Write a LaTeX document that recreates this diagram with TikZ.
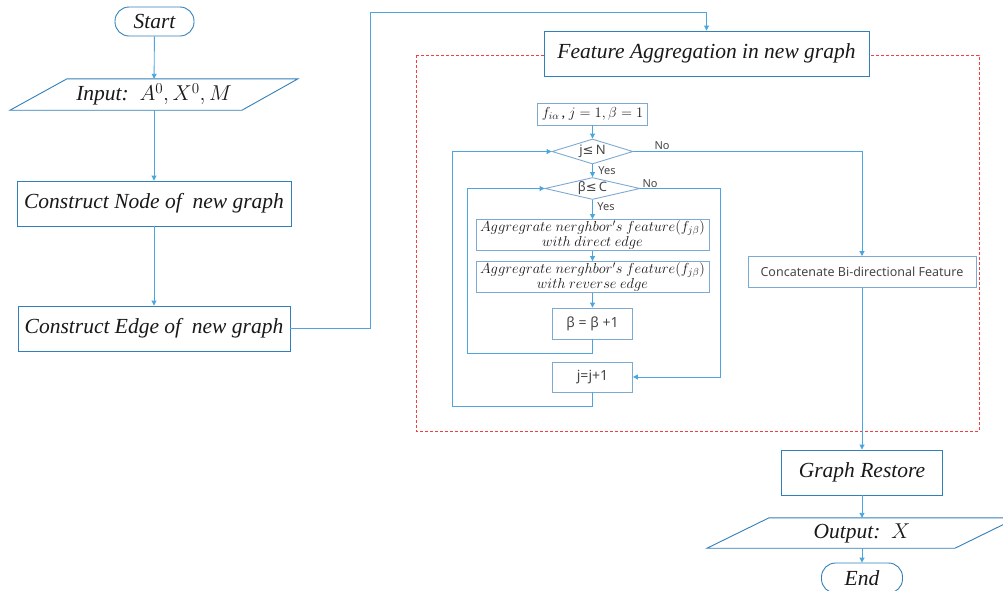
\RequirePackage{fix-cm}
\documentclass[tikz,border=0pt]{standalone}
\usepackage[no-math]{fontspec}
\setmainfont{Liberation Serif}
\newfontfamily\sansf{Noto Sans}
\newfontfamily\djv{DejaVu Sans}
\usetikzlibrary{arrows.meta,shapes.geometric}
\definecolor{linec}{RGB}{75,165,222}
\definecolor{boxc}{RGB}{50,128,185}
\definecolor{innerc}{RGB}{125,170,210}
\definecolor{redd}{RGB}{250,60,60}
\definecolor{txt}{RGB}{25,25,25}
\definecolor{stxt}{RGB}{70,70,70}
\begin{document}
\begin{tikzpicture}[x=1pt,y=-1pt,
 conn/.style={draw=linec, line width=0.9pt},
 arr/.style={conn, -{Triangle[length=5pt,width=5pt]}},
 bigbox/.style={draw=boxc, line width=0.9pt, fill=white, inner sep=0pt, font=\fontsize{21.5}{24}\selectfont\itshape, text=txt},
 term/.style={bigbox, rounded corners=14pt},
 io/.style={inner sep=0pt, font=\fontsize{21.5}{24}\selectfont\itshape, text=txt},
 iobord/.style={draw=boxc, line width=0.9pt},
 smallbox/.style={draw=innerc, line width=0.9pt, inner sep=0pt, text=stxt, font=\sansf\fontsize{14}{16}\selectfont},
 aggbox/.style={draw=innerc, line width=0.9pt, inner sep=0pt, align=center, text=txt, font=\fontsize{14.5}{15}\selectfont},
 dia/.style={diamond, aspect=4, draw=innerc, line width=0.9pt, inner sep=0pt, text=stxt, font=\sansf\fontsize{13}{15}\selectfont},
 lab/.style={font=\sansf\fontsize{11}{13}\selectfont, text=stxt, inner sep=0pt},
 reddash/.style={draw=redd, line width=0.9pt, dash pattern=on 3pt off 2pt},
]
\useasboundingbox (0,0) rectangle (1003,590);

% left column
\node[term, minimum width=79pt, minimum height=29pt] (start) at (154.5,21.5) {Start};
\node[io, minimum width=231pt, minimum height=31pt] (in) at (154,94.5) {Input:\ \ $A^{0}, X^{0}, M$};
\draw[iobord] ([xshift=-144pt]in.south) -- ([xshift=88pt]in.south) -- ([xshift=144pt]in.north) -- ([xshift=-87pt]in.north) -- cycle;
\node[bigbox, minimum width=274pt, minimum height=45pt] (cnode) at (154,203.5) {Construct Node of\ \ new graph};
\node[bigbox, minimum width=272pt, minimum height=45pt] (cedge) at (154,328.5) {Construct Edge of\ \ new graph};
\coordinate (k1) at (370,12);

% red dashed region
\draw[reddash] (416,55) rectangle (979,431);
\node[bigbox, minimum width=325pt, minimum height=45pt] (fa) at (706.5,53.5) {Feature Aggregation in new graph};

% inner loop structure
\node[smallbox, minimum width=110pt, minimum height=22pt, text=txt, font=\fontsize{14.5}{16}\selectfont] (init) at (592.5,114) {$f_{i\alpha}$\,, $j=1,\beta=1$};
\node[dia, minimum width=81pt, minimum height=25pt] (d1) at (592.5,151.5) {j{\djv≤}\,N};
\node[dia, minimum width=95pt, minimum height=22pt] (d2) at (592.5,188.5) {β{\djv≤}\,C};
\node[aggbox, minimum width=233pt, minimum height=31pt] (ag1) at (592.5,235) {$Aggregrate\ nerghbor's\ feature(f_{j\beta})$\\$with\ direct\ edge$};
\node[aggbox, minimum width=233pt, minimum height=31pt] (ag2) at (592.5,277) {$Aggregrate\ nerghbor's\ feature(f_{j\beta})$\\$with\ reverse\ edge$};
\node[smallbox, minimum width=80pt, minimum height=31pt] (bb) at (592.5,323.5) {β = β +1};
\node[smallbox, minimum width=80pt, minimum height=30pt] (jj) at (592.5,377) {j=j+1};
\node[smallbox, minimum width=228pt, minimum height=31pt, font=\sansf\fontsize{12.5}{14}\selectfont] (cat) at (862,272) {Concatenate Bi-directional Feature};
\coordinate (ci) at (467,353);
\coordinate (cb) at (720,188.5);
\coordinate (co) at (452,406);

% bottom
\node[bigbox, minimum width=161pt, minimum height=45pt] (gr) at (862,472.5) {Graph Restore};
\node[io, minimum width=248pt, minimum height=30pt] (out) at (862,533) {Output:\ \ $X$};
\draw[iobord] ([xshift=-155pt]out.south) -- ([xshift=93pt]out.south) -- ([xshift=155pt]out.north) -- ([xshift=-93pt]out.north) -- cycle;
\node[term, minimum width=81pt, minimum height=30pt] (end) at (862,578) {End};

% labels
\node[lab] (no1) at (662,146) {No};
\node[lab] (no2) at (650,183.5) {No};
\node[lab] (yes1) at (607,171) {Yes};
\node[lab] (yes2) at (606,207) {Yes};

% connectors
\draw[arr] (start) -- (in);
\draw[arr] (in) -- (cnode);
\draw[arr] (cnode) -- (cedge);
\draw[arr] (cedge.east) -| (k1) -| (fa.north);
\draw[arr] (init) -- (d1);
\draw[arr] (d1) -- (d2);
\draw[arr] (d2) -- (ag1);
\draw[arr] (ag1) -- (ag2);
\draw[arr] (ag2) -- (bb);
\draw[arr] (bb.south) |- (ci) |- (d2.west);
\draw[arr] (d2.east) -- (cb) |- (jj.east);
\draw[arr] (jj.south) |- (co) |- (d1.west);
\draw[arr] (d1.east) -| (cat.north);
\draw[arr] (cat) -- (gr);
\draw[arr] (gr) -- (out);
\draw[arr] (out) -- (end);
\end{tikzpicture}
\end{document}
